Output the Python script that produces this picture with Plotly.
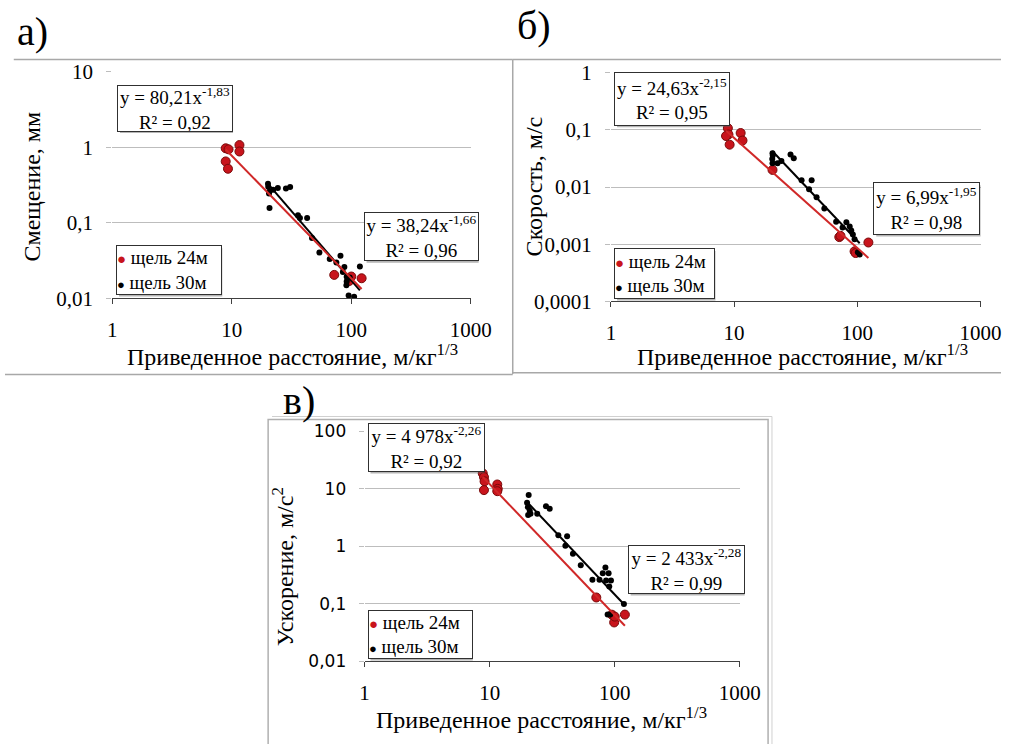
import numpy as np
import plotly.graph_objects as go

W, H = 1022, 744

# ---------------- data ----------------
# Panel a) displacement, mm
a_red_x = [8.9, 9.4, 11.6, 11.6, 8.9, 9.3, 72, 96, 100, 122]
a_red_y = [0.97, 0.94, 1.07, 0.88, 0.65, 0.52, 0.0205, 0.017, 0.0195, 0.0185]
a_blk_x = [20.1, 20.2, 20.7, 20.5, 20.7, 24.3, 22.2, 28.4, 30.8, 35.8, 37.2, 42.7, 46.9,
           54.1, 66, 81.2, 75, 87.5, 85, 91.5, 91.5, 91, 95, 105.6, 118, 97]
a_blk_y = [0.33, 0.30, 0.26, 0.245, 0.157, 0.29, 0.275, 0.284, 0.298, 0.126, 0.116, 0.116, 0.063,
           0.0405, 0.0333, 0.0366, 0.030, 0.026, 0.0224, 0.0194, 0.0167, 0.0149, 0.0109, 0.0105, 0.0265, 0.019]

# Panel б) velocity, m/s
b_red_x = [8.9, 9.0, 8.6, 9.2, 11.3, 11.7, 20.5, 71.4, 73, 95, 97, 123]
b_red_y = [0.107, 0.083, 0.078, 0.055, 0.088, 0.065, 0.0199, 0.00133, 0.0014, 0.00075, 0.0007, 0.00107]
b_blk_x = [20.5, 20.6, 20.4, 20.5, 24.2, 22.5, 28.7, 30.5, 35.3, 42.6, 40.6, 46.7, 54,
           67.3, 75.9, 81.5, 86.7, 89.3, 92, 95, 101, 104.5]
b_blk_y = [0.039, 0.0356, 0.031, 0.026, 0.0285, 0.026, 0.037, 0.032, 0.0131, 0.0131, 0.0091, 0.0066, 0.0042,
           0.00248, 0.00196, 0.00242, 0.00204, 0.00173, 0.00148, 0.00122, 0.00072, 0.00066]

# Panel в) acceleration, m/s2
c_red_x = [8.8, 9.0, 9.1, 9.0, 11.5, 11.6, 11.5, 71.2, 94.9, 98.9, 120.5, 100]
c_red_y = [18.6, 16, 13.5, 9.5, 11.9, 10, 9.1, 0.129, 0.0648, 0.0475, 0.065, 0.06]
c_blk_x = [20.5, 19.9, 20.2, 20.9, 20.3, 21.2, 24, 28.2, 30.2, 35.4, 41.6, 40.3, 46.3, 53.5,
           66.3, 75.5, 84.2, 80.2, 89.3, 85.3, 93.3, 90.4, 118.4, 87.7, 92]
c_blk_y = [7.8, 5.7, 4.8, 4.2, 3.5, 3.7, 3.7, 5.0, 4.5, 1.56, 1.5, 1.02, 0.74, 0.47,
           0.262, 0.262, 0.43, 0.34, 0.34, 0.255, 0.255, 0.2, 0.099, 0.065, 0.065]

x_ticks = [1, 10, 100, 1000]
x_ticktext = ["1", "10", "100", "1000"]
a_yticks = [0.01, 0.1, 1, 10]
a_yticktext = ["0,01", "0,1", "1", "10"]
b_yticks = [0.0001, 0.001, 0.01, 0.1, 1]
b_yticktext = ["0,0001", "0,001", "0,01", "0,1", "1"]
c_yticks = [0.01, 0.1, 1, 10, 100]
c_yticktext = ["0,01", "0,1", "1", "10", "100"]

series_names = ["щель 24м", "щель 30м"]
panel_letters = ["а)", "б)", "в)"]
y_titles = ["Смещение, мм", "Скорость, м/с", "Ускорение, м/с<sup>2</sup>"]
x_title = "Приведенное расстояние, м/кг<sup>1/3</sup>"
equations = [
    ["y = 80,21x<sup>-1,83</sup><br>R² = 0,92", "y = 38,24x<sup>-1,66</sup><br>R² = 0,96"],
    ["y = 24,63x<sup>-2,15</sup><br>R² = 0,95", "y = 6,99x<sup>-1,95</sup><br>R² = 0,98"],
    ["y = 4 978x<sup>-2,26</sup><br>R² = 0,92", "y = 2 433x<sup>-2,28</sup><br>R² = 0,99"],
]

# ---------------- styling ----------------
RED = "#c8141c"
RED_EDGE = "#7a0a0a"
RED_LINE = "#d02828"
BLK = "#000000"
GRID = "#bdbdbd"
SERIF = "Liberation Serif"


def px(x):
    return x / W


def py(y):
    return 1 - y / H


fig = go.Figure()

panels = [
    dict(rx=a_red_x, ry=a_red_y, bx=a_blk_x, by=a_blk_y, xa="x", ya="y"),
    dict(rx=b_red_x, ry=b_red_y, bx=b_blk_x, by=b_blk_y, xa="x2", ya="y2"),
    dict(rx=c_red_x, ry=c_red_y, bx=c_blk_x, by=c_blk_y, xa="x3", ya="y3"),
]


def power_fit(x, y):
    lx, ly = np.log10(x), np.log10(y)
    m, b = np.polyfit(lx, ly, 1)
    xs = np.array([min(x), max(x)], dtype=float)
    return xs, 10 ** (b + m * np.log10(xs))


for p in panels:
    fig.add_trace(go.Scatter(x=p["rx"], y=p["ry"], mode="markers", name=series_names[0],
                             xaxis=p["xa"], yaxis=p["ya"], showlegend=False,
                             marker=dict(color=RED, size=9, line=dict(color=RED_EDGE, width=1))))
    fig.add_trace(go.Scatter(x=p["bx"], y=p["by"], mode="markers", name=series_names[1],
                             xaxis=p["xa"], yaxis=p["ya"], showlegend=False,
                             marker=dict(color=BLK, size=6)))
    bxs, bys = power_fit(p["bx"], p["by"])
    fig.add_trace(go.Scatter(x=bxs, y=bys, mode="lines", xaxis=p["xa"], yaxis=p["ya"],
                             showlegend=False, line=dict(color=BLK, width=2)))
    rxs, rys = power_fit(p["rx"], p["ry"])
    fig.add_trace(go.Scatter(x=rxs, y=rys, mode="lines", xaxis=p["xa"], yaxis=p["ya"],
                             showlegend=False, line=dict(color=RED_LINE, width=2)))

serif_tick = dict(family=SERIF, size=21, color="#000")
sans_tick = dict(family="DejaVu Sans", size=17, color="#000")


def xaxis_cfg(x0, x1, anchor):
    return dict(type="log", range=[0, 3], domain=[px(x0), px(x1)], anchor=anchor,
                tickvals=x_ticks, ticktext=x_ticktext, showgrid=False, zeroline=False,
                showline=True, linecolor="#404040", linewidth=1, ticks="outside",
                ticklen=5, tickcolor="#404040", ticklabelstandoff=7, tickfont=serif_tick)


def yaxis_cfg(rng, y0, y1, anchor, tv, tt, font):
    return dict(type="log", range=rng, domain=[py(y1), py(y0)], anchor=anchor,
                tickvals=tv, ticktext=tt, showgrid=True, gridcolor=GRID, gridwidth=1,
                zeroline=False, showline=False, ticks="outside", ticklen=5, tickcolor=GRID,
                ticklabelstandoff=9, tickfont=font)


fig.update_layout(
    xaxis=xaxis_cfg(110, 478, "y"),
    yaxis=yaxis_cfg([-2, 1], 61.7, 296, "x", a_yticks, a_yticktext, serif_tick),
    xaxis2=xaxis_cfg(621.7, 1001, "y2"),
    yaxis2=yaxis_cfg([-4, 0], 62.7, 299, "x2", b_yticks, b_yticktext, serif_tick),
    xaxis3=xaxis_cfg(369, 754, "y3"),
    yaxis3=yaxis_cfg([-2, 2], 433.3, 671, "x3", c_yticks, c_yticktext, sans_tick),
)

shapes = []


def line(x0, y0, x1, y1, color="#a8a8a8", width=1.5):
    shapes.append(dict(type="line", xref="paper", yref="paper", x0=px(x0), y0=py(y0),
                       x1=px(x1), y1=py(y1), line=dict(color=color, width=width), layer="below"))


# panel frames
line(9, 49, 521, 49)
line(521, 49, 521, 374)
line(0, 374.5, 521, 374.5)
line(521, 49, 1022, 49)
line(521, 372.7, 1022, 372.7)
line(274, 418, 787, 418, color="#d0d0d0", width=1)
line(787, 418, 787, 760, color="#d0d0d0", width=1)
shapes.append(dict(type="rect", xref="paper", yref="paper", x0=px(270), y0=py(760), x1=px(783),
                   y1=py(421), line=dict(color="#b0b0b0", width=1.5), layer="below"))

annotations = []


def boxed(text, x, y, w, h, align="center", size=19):
    # drop shadow
    shapes.append(dict(type="rect", xref="paper", yref="paper", x0=px(x + 3), y0=py(y + h + 3),
                       x1=px(x + w + 3), y1=py(y + 3), fillcolor="rgba(90,90,90,0.45)",
                       line=dict(width=0), layer="above"))
    annotations.append(dict(text=text, xref="paper", yref="paper", x=px(x), y=py(y),
                            xanchor="left", yanchor="top", showarrow=False, align=align,
                            width=w - 2, height=h - 2, borderpad=0, bgcolor="white",
                            bordercolor="#303030", borderwidth=1,
                            font=dict(family=SERIF, size=size, color="#000")))


# equation boxes
eq_boxes = [
    [(115, 75, 116, 47), (368, 207, 115, 49)],
    [(625, 62, 116, 54), (891, 176, 107, 53)],
    [(372, 425, 117, 49), (639, 551, 117, 49)],
]
for i in range(3):
    for j in range(2):
        x, y, w, h = eq_boxes[i][j]
        boxed(equations[i][j], x, y, w, h)

# legend boxes
leg_text = (f'<span style="color:{RED};font-size:15px">●</span> {series_names[0]}<br>'
            f'<span style="color:{BLK};font-size:13px">●</span> {series_names[1]}')
for (x, y, w, h) in [(114, 241, 106, 50), (625, 244, 101, 51), (372, 618, 105, 49)]:
    boxed(leg_text, x, y, w, h, align="left", size=19)


def text(t, x, y, size, angle=0, family=SERIF, xanchor="center"):
    annotations.append(dict(text=t, xref="paper", yref="paper", x=px(x), y=py(y),
                            xanchor=xanchor, yanchor="middle", showarrow=False, textangle=angle,
                            font=dict(family=family, size=size, color="#000")))


# axis titles
text(y_titles[0], 28, 180, 24, angle=-90)
text(y_titles[1], 543, 180, 24, angle=-90)
text(y_titles[2], 285, 573, 24, angle=-90)
text(x_title, 295, 354, 24)
text(x_title, 818, 354, 24)
text(x_title, 550, 730, 24)

# panel letters
text(panel_letters[0], 10, 20, 40, xanchor="left")
text(panel_letters[1], 523, 14, 40, xanchor="left")
text(panel_letters[2], 283, 401, 40, xanchor="left")

fig.update_layout(
    width=W, height=H, margin=dict(l=0, r=0, t=0, b=0),
    paper_bgcolor="white", plot_bgcolor="white", showlegend=False,
    shapes=shapes, annotations=annotations,
)

fig.write_html("out.html")
